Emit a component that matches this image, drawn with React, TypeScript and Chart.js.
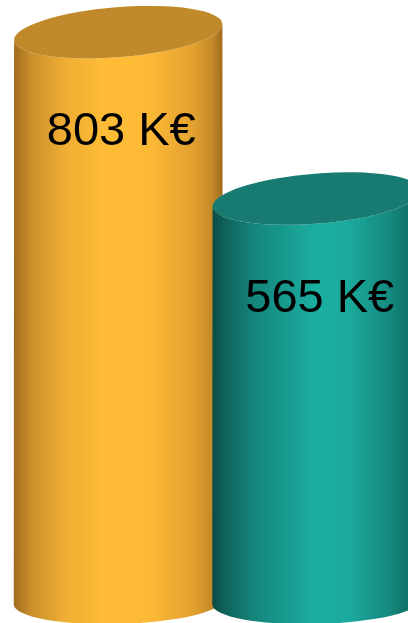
import React, { useEffect, useRef } from "react";
import { Chart, registerables } from "chart.js";

Chart.register(...registerables);

const categories: string[] = ["Montant A", "Montant B"];
const values: number[] = [803, 565];
const unit = "K€";
const axisMin = -12;
const axisMax = 849;

const sideStops: [number, string][][] = [
  [
    [0, "#A06C1E"],
    [0.08, "#C88E2B"],
    [0.25, "#F0AE33"],
    [0.45, "#FFBD37"],
    [0.65, "#FCB935"],
    [0.85, "#E5A230"],
    [0.95, "#C38A28"],
    [1, "#9E6B1D"],
  ],
  [
    [0, "#0A4A45"],
    [0.06, "#0F625B"],
    [0.2, "#14857B"],
    [0.5, "#1BAFA1"],
    [0.65, "#1AAA9C"],
    [0.85, "#15897F"],
    [1, "#0E5F58"],
  ],
];
const topColors: string[] = ["#C08A2B", "#177B71"];

const cylinderPlugin = {
  id: "cylinders",
  afterDatasetsDraw(chart: any) {
    const ctx: CanvasRenderingContext2D = chart.ctx;
    const meta = chart.getDatasetMeta(0);
    const bottom = chart.chartArea.bottom;
    meta.data.forEach((el: any, i: number) => {
      const cx = el.x;
      const ty = el.y;
      const rx = el.width / 2;
      const ryTop = 25;
      const ryBot = 22;
      const rotTop = -0.08;
      const rotBot = -0.025;
      ctx.save();
      // side
      ctx.beginPath();
      ctx.moveTo(cx + rx * Math.cos(rotTop), ty + rx * Math.sin(rotTop));
      ctx.ellipse(cx, ty, rx, ryTop, rotTop, 0, Math.PI, false);
      ctx.lineTo(cx - rx * Math.cos(rotBot), bottom - rx * Math.sin(rotBot));
      ctx.ellipse(cx, bottom, rx, ryBot, rotBot, Math.PI, 0, true);
      ctx.closePath();
      const g = ctx.createLinearGradient(cx - rx, 0, cx + rx, 0);
      sideStops[i].forEach(([o, c]) => g.addColorStop(o, c));
      ctx.fillStyle = g;
      ctx.fill();
      // top
      ctx.beginPath();
      ctx.ellipse(cx, ty, rx, ryTop, rotTop, 0, Math.PI * 2);
      ctx.fillStyle = topColors[i];
      ctx.fill();
      // label
      ctx.fillStyle = "#000000";
      ctx.font = "47px 'Liberation Sans', Arial, sans-serif";
      ctx.textAlign = "center";
      ctx.textBaseline = "alphabetic";
      ctx.fillText(`${values[i]} ${unit}`, cx + 3, ty + 113);
      ctx.restore();
    });
  },
};

export default function App() {
  const canvasRef = useRef<HTMLCanvasElement | null>(null);

  useEffect(() => {
    document.body.style.margin = "0";
    const canvas = canvasRef.current;
    if (!canvas) return;
    const chart = new Chart(canvas, {
      type: "bar",
      data: {
        labels: categories,
        datasets: [
          {
            data: values,
            backgroundColor: "rgba(0,0,0,0)",
            borderWidth: 0,
            categoryPercentage: 1,
            barPercentage: 1.053,
          },
        ],
      },
      options: {
        animation: false,
        responsive: true,
        maintainAspectRatio: false,
        layout: { padding: { left: 19, right: 14, top: 0, bottom: 21 } },
        plugins: {
          legend: { display: false },
          tooltip: { enabled: false },
        },
        scales: {
          x: { display: false },
          y: { display: false, min: axisMin, max: axisMax },
        },
      },
      plugins: [cylinderPlugin],
    });
    return () => chart.destroy();
  }, []);

  return (
    <div
      style={{
        position: "fixed",
        left: 0,
        top: 0,
        width: 408,
        height: 623,
        overflow: "hidden",
        background: "#ffffff",
      }}
    >
      <div style={{ position: "relative", width: 430, height: 623 }}>
        <canvas ref={canvasRef} />
      </div>
    </div>
  );
}
